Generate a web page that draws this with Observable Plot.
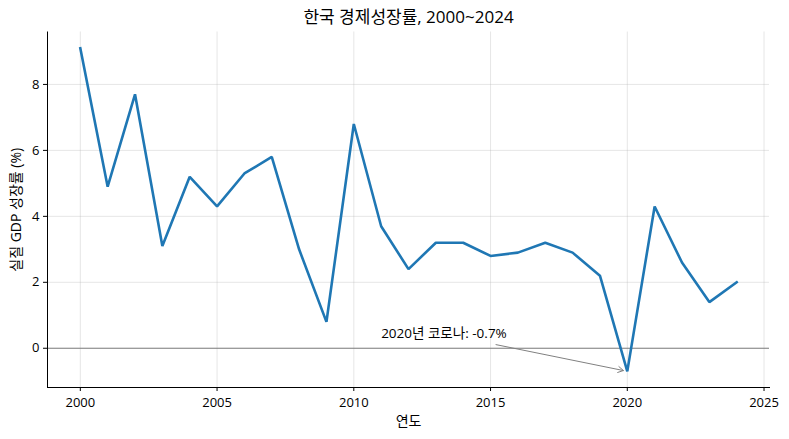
<!DOCTYPE html>
<html>
<head>
<meta charset="utf-8">
<script src="https://cdn.jsdelivr.net/npm/d3@7"></script>
<script src="https://cdn.jsdelivr.net/npm/@observablehq/plot@0.6"></script>
<style>
  html, body { margin: 0; padding: 0; background: #fff; }
  #chart svg { display: block; }
</style>
</head>
<body>
<div id="chart"></div>
<script>
const years = [2000,2001,2002,2003,2004,2005,2006,2007,2008,2009,2010,2011,2012,2013,2014,2015,2016,2017,2018,2019,2020,2021,2022,2023,2024];
const growth = [9.1,4.9,7.7,3.1,5.2,4.3,5.3,5.8,3.0,0.8,6.8,3.7,2.4,3.2,3.2,2.8,2.9,3.2,2.9,2.2,-0.7,4.3,2.6,1.4,2.0];
const xTicks = [2000,2005,2010,2015,2020,2025];
const yTicks = [0,2,4,6,8];
const title = "한국 경제성장률, 2000~2024";
const xLabel = "연도";
const yLabel = "실질 GDP 성장률 (%)";
const annotText = ["2020년 코로나: -0.7%"];
const annotTextPos = {x: 2011, y: 0.3};
const annotArrow = [{x1: 2015.2, y1: 0.11, x2: 2020, y2: -0.7}];

const data = years.map((y, i) => ({year: y, value: growth[i]}));
const font = "'Open Sans', 'Noto Sans CJK KR', sans-serif";

const xmin = d3.min(years), xmax = d3.max(years);
const ymin = d3.min(growth), ymax = d3.max(growth);
const xm = (xmax - xmin) * 0.05, ym = (ymax - ymin) * 0.05;

const chart = Plot.plot({
  width: 789,
  height: 439,
  marginLeft: 47,
  marginRight: 20,
  marginTop: 31.5,
  marginBottom: 52,
  style: {fontFamily: font, fontSize: "13px", color: "#000", background: "#fff"},
  x: {domain: [xmin - xm, xmax + xm]},
  y: {domain: [ymin - ym, ymax + ym]},
  marks: [
    Plot.gridX(xTicks, {stroke: "#b0b0b0", strokeOpacity: 0.4, strokeWidth: 0.8}),
    Plot.gridY(yTicks, {stroke: "#b0b0b0", strokeOpacity: 0.4, strokeWidth: 0.8}),
    Plot.ruleY([0], {stroke: "#808080", strokeWidth: 1}),
    Plot.line(data, {x: "year", y: "value", stroke: "#1f77b4", strokeWidth: 2.6, strokeLinejoin: "miter", strokeLinecap: "square"}),
    Plot.arrow(annotArrow, {x1: "x1", y1: "y1", x2: "x2", y2: "y2", stroke: "#808080", strokeWidth: 1, headLength: 9, insetEnd: 4, bend: 0}),
    Plot.text(annotText, {x: () => annotTextPos.x, y: () => annotTextPos.y, text: d => d, textAnchor: "start", lineAnchor: "bottom", fontSize: 13.5, fill: "#000"}),
    Plot.frame({anchor: "left", stroke: "#000", strokeWidth: 1}),
    Plot.frame({anchor: "bottom", stroke: "#000", strokeWidth: 1}),
    Plot.axisX(xTicks, {tickSize: 4, tickPadding: 6, tickFormat: d => String(d), label: null, fontSize: 13}),
    Plot.axisY(yTicks, {tickSize: 4, tickPadding: 4, tickFormat: d => String(d), label: null, fontSize: 13}),
    Plot.text([xLabel], {frameAnchor: "bottom", dy: 34, text: d => d, fontSize: 14, lineAnchor: "middle", textAnchor: "middle"}),
    Plot.text([yLabel], {frameAnchor: "left", dx: -31, rotate: -90, text: d => d, fontSize: 14, lineAnchor: "middle", textAnchor: "middle"}),
    Plot.text([title], {frameAnchor: "top", dy: -14.5, text: d => d, fontSize: 17, lineAnchor: "middle", textAnchor: "middle"})
  ]
});
document.getElementById("chart").appendChild(chart);
</script>
</body>
</html>
